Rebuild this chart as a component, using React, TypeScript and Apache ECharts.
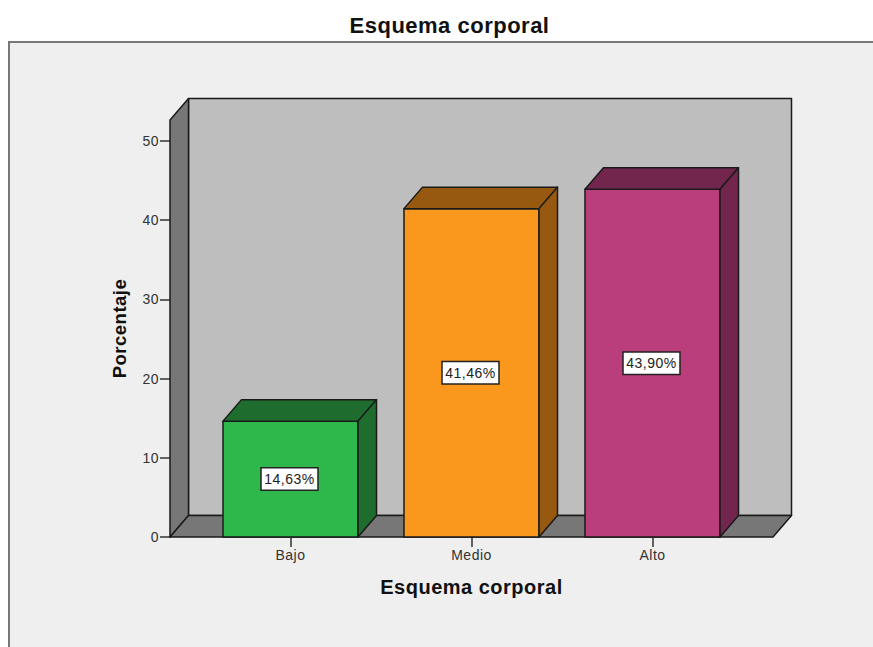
import React, { useEffect, useRef } from "react";
import * as echarts from "echarts";

const titleText = "Esquema corporal";
const xAxisTitle = "Esquema corporal";
const yAxisTitle = "Porcentaje";
const categories = ["Bajo", "Medio", "Alto"];
const percentages = [14.63, 41.46, 43.9];
const barLabels = ["14,63%", "41,46%", "43,90%"];
const frontColors = ["#2EB84B", "#FA981E", "#BA3D7C"];
const sideColors = ["#1E6D2E", "#96590F", "#72264E"];
const yTicks = [0, 10, 20, 30, 40, 50];
const yMax = 52.65;

const FONT = "'Liberation Sans', Arial, sans-serif";
const DX = 18.5;
const DY = 21.5;
const LINE = "#1a1a1a";

function poly(points: number[][], fill: string, stroke = LINE, lineWidth = 1.5) {
  return { type: "polygon", shape: { points }, style: { fill, stroke, lineWidth, lineJoin: "round" } };
}

function renderFrame(params: any) {
  const g = params.coordSys;
  const left = g.x - 30;
  const right = g.x + g.width + 30;
  const top = g.y;
  const bottom = g.y + g.height;
  return {
    type: "group",
    children: [
      poly([[left + DX, top - DY], [right + DX, top - DY], [right + DX, bottom - DY], [left + DX, bottom - DY]], "#BEBEBE"),
      poly([[left, top], [left + DX, top - DY], [left + DX, bottom - DY], [left, bottom]], "#777777"),
      poly([[left, bottom], [left + DX, bottom - DY], [right + DX, bottom - DY], [right, bottom]], "#777777"),
    ],
  };
}

function renderBar(params: any, api: any) {
  const i = api.value(0);
  const [cx, yTop] = api.coord([i, api.value(1)]);
  const [, yBase] = api.coord([i, 0]);
  const halfW = (api.size([1, 0])[0] * 0.746) / 2;
  const x0 = cx - halfW;
  const x1 = cx + halfW;
  return {
    type: "group",
    children: [
      poly([[x0, yTop], [x1, yTop], [x1, yBase], [x0, yBase]], frontColors[i]),
      poly([[x0, yTop], [x0 + DX, yTop - DY], [x1 + DX, yTop - DY], [x1, yTop]], sideColors[i]),
      poly([[x1, yTop], [x1 + DX, yTop - DY], [x1 + DX, yBase - DY], [x1, yBase]], sideColors[i]),
      {
        type: "text",
        z2: 10,
        style: {
          x: cx - 1,
          y: (yTop + yBase) / 2,
          text: barLabels[i],
          align: "center",
          verticalAlign: "middle",
          font: `14px ${FONT}`,
          fill: "#222222",
          backgroundColor: "#FFFFFF",
          borderColor: "#222222",
          borderWidth: 1.5,
          padding: [4, 4, 3, 4],
        },
      },
    ],
  };
}

export default function App() {
  const ref = useRef<HTMLDivElement>(null);
  useEffect(() => {
    const chart = echarts.init(ref.current!, undefined, { renderer: "svg" });
    chart.setOption({
      animation: false,
      backgroundColor: "#FFFFFF",
      textStyle: { fontFamily: FONT },
      title: {
        text: titleText,
        left: 444.5,
        top: 9,
        textAlign: "center",
        textStyle: { fontSize: 22, fontWeight: "bold", color: "#111111", fontFamily: FONT },
      },
      graphic: [
        {
          type: "rect",
          z: -10,
          shape: { x: 9, y: 42, width: 870, height: 610 },
          style: { fill: "#EFEFEF", stroke: "#777777", lineWidth: 2 },
        },
      ],
      grid: { left: 200, right: 130, top: 120, bottom: 110 },
      xAxis: {
        type: "category",
        data: categories,
        axisLine: { show: false },
        axisTick: { show: true, alignWithLabel: true, length: 10, lineStyle: { color: "#333333", width: 1.5 } },
        axisLabel: { fontSize: 14, color: "#333333", margin: 11, fontFamily: FONT },
        name: xAxisTitle,
        nameLocation: "middle",
        nameGap: 40,
        nameTextStyle: { fontSize: 20, fontWeight: "bold", color: "#111111", fontFamily: FONT },
        splitLine: { show: false },
      },
      yAxis: {
        type: "value",
        min: 0,
        max: yMax,
        offset: 30,
        axisLine: { show: false },
        axisTick: { show: true, length: 10, customValues: yTicks, lineStyle: { color: "#333333", width: 1.5 } },
        axisLabel: { fontSize: 14, color: "#333333", margin: 11, padding: [5, 0, 0, 0], customValues: yTicks, fontFamily: FONT },
        splitLine: { show: false },
        name: yAxisTitle,
        nameLocation: "middle",
        nameRotate: 90,
        nameGap: 41,
        nameTextStyle: { fontSize: 18.5, fontWeight: "bold", color: "#111111", fontFamily: FONT },
      },
      series: [
        { type: "custom", data: [[0, 0]], renderItem: renderFrame, silent: true, z: 1 },
        {
          type: "custom",
          data: percentages.map((v, i) => [i, v]),
          encode: { x: 0, y: 1 },
          renderItem: renderBar,
          z: 2,
        },
      ],
    });
    return () => chart.dispose();
  }, []);
  return <div ref={ref} style={{ position: "fixed", left: 0, top: 0, width: 873, height: 647, letterSpacing: "0.5px" }} />;
}
